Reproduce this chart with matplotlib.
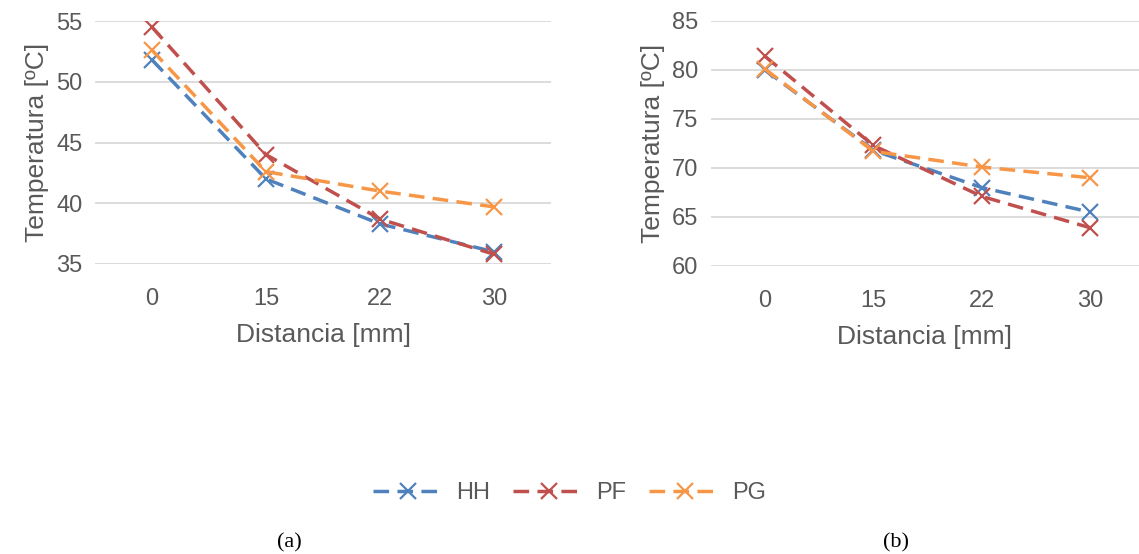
import matplotlib.pyplot as plt
import numpy as np

distancias = ['0', '15', '22', '30']
series = ['HH', 'PF', 'PG']
colores = ['#4F81BD', '#C0504D', '#F79646']

temp_a = {
    'HH': [51.8, 42.0, 38.3, 36.0],
    'PF': [54.5, 44.0, 38.7, 35.8],
    'PG': [52.6, 42.6, 41.0, 39.7],
}
temp_b = {
    'HH': [80.0, 71.8, 68.0, 65.5],
    'PF': [81.4, 72.3, 67.1, 63.9],
    'PG': [80.1, 71.7, 70.1, 69.0],
}

gris = '#595959'
plt.rcParams['font.family'] = ['Liberation Sans', 'DejaVu Sans']

fig = plt.figure(figsize=(11.39, 5.54), dpi=100)
ax1 = fig.add_axes([0.0834, 0.5235, 0.4004, 0.4385])
ax2 = fig.add_axes([0.624, 0.5199, 0.376, 0.4422])

def dibujar(ax, datos, ylim, ticks, xmax=3.5):
    x = np.arange(len(distancias))
    for s, c in zip(series, colores):
        ax.plot(x, datos[s], color=c, lw=2.5, ls=(0, (4.5, 2.4)),
                marker='x', ms=11, mew=1.6, label=s)
    ax.set_xlim(-0.5, xmax)
    ax.set_ylim(*ylim)
    ax.set_yticks(ticks)
    ax.set_xticks(x)
    ax.set_xticklabels(distancias)
    ax.grid(axis='y', color='#D9D9D9', lw=1.3)
    ax.set_axisbelow(True)
    for sp in ax.spines.values():
        sp.set_visible(False)
    ax.tick_params(length=0, labelsize=17, colors=gris)
    ax.tick_params(axis='x', pad=17)
    ax.tick_params(axis='y', pad=9)
    ax.set_xlabel('Distancia [mm]', fontsize=19, color=gris, labelpad=10)
    ax.set_ylabel('Temperatura [ºC]', fontsize=19, color=gris, labelpad=5)

dibujar(ax1, temp_a, (35, 55), [35, 40, 45, 50, 55])
dibujar(ax2, temp_b, (60, 85), [60, 65, 70, 75, 80, 85], xmax=3.45)

h, l = ax1.get_legend_handles_labels()
fig.legend(h, l, loc='center', bbox_to_anchor=(0.5, 0.11), ncol=3,
           frameon=False, fontsize=17, labelcolor=gris, handlelength=3.0,
           columnspacing=1.0, handletextpad=0.5)

fig.text(0.243, 0.012, '(a)', family='Liberation Serif', fontsize=16)
fig.text(0.775, 0.012, '(b)', family='Liberation Serif', fontsize=16)

fig.savefig('out.png', dpi=100)
